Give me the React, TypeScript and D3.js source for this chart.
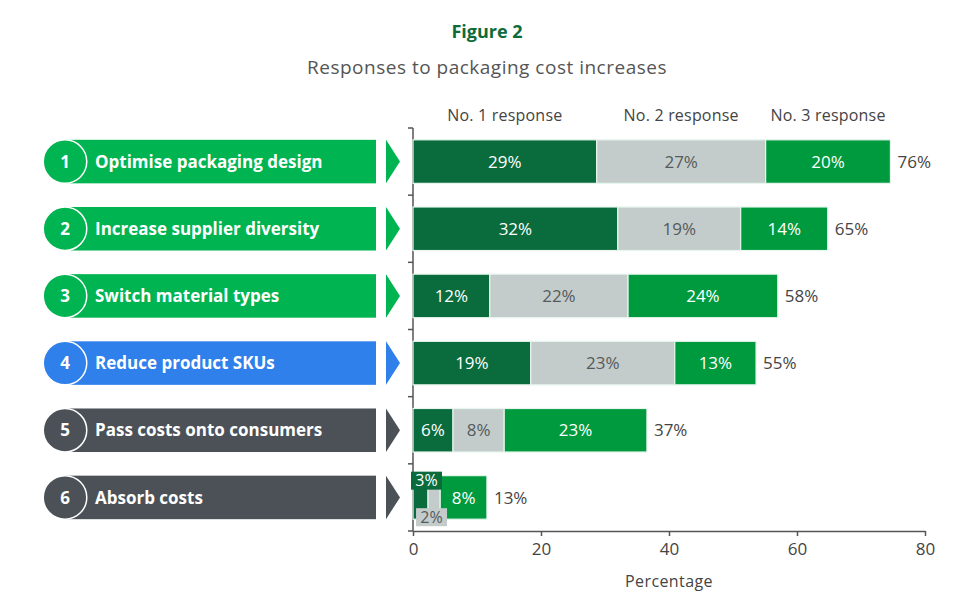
import React, { useRef, useEffect } from 'react';
import * as d3 from 'd3';

const RESPONSES = [
    "Optimise packaging design",
    "Increase supplier diversity",
    "Switch material types",
    "Reduce product SKUs",
    "Pass costs onto consumers",
    "Absorb costs"
];

const SERIES = ["No. 1 response", "No. 2 response", "No. 3 response"];

// values
const NO1 = [28.7, 32.0, 12.0, 18.4, 6.25, 2.35];
const NO2 = [26.4, 19.2, 21.6, 22.5, 8.0, 1.9];
const NO3 = [19.5, 13.6, 23.4, 12.7, 22.3, 7.3];

// printed labels
const NO1_LABELS = ["29%", "32%", "12%", "19%", "6%", "3%"];
const NO2_LABELS = ["27%", "19%", "22%", "23%", "8%", "2%"];
const NO3_LABELS = ["20%", "14%", "24%", "13%", "23%", "8%"];
const TOTAL_LABELS = ["76%", "65%", "58%", "55%", "37%", "13%"];

const X_TICKS = [0, 20, 40, 60, 80];

const PILL_COLORS = ["#00b451", "#00b451", "#00b451", "#2f80ea", "#4b5157", "#4b5157"];
const SERIES_COLORS = ["#0a6b3c", "#c4cccb", "#009a3e"];
const SERIES_TEXT = ["#ffffff", "#555a5c", "#ffffff"];

const FONT = "'Open Sans', Lato, sans-serif";

const App: React.FC = () => {
    const svgRef = useRef<SVGSVGElement>(null);

    useEffect(() => {
        document.body.style.margin = "0";
        if (!svgRef.current) return;

        const svg = d3.select(svgRef.current);
        svg.selectAll("*").remove();

        const margin = { top: 128, left: 413 };
        const width = 512;
        const height = 403;

        const xScale = d3.scaleLinear().domain([0, 80]).range([0, width]);
        const yScale = d3.scaleBand<string>()
            .domain(RESPONSES)
            .range([0, height])
            .paddingInner(0.352)
            .paddingOuter(0.176);

        const series = [NO1, NO2, NO3];
        const labels = [NO1_LABELS, NO2_LABELS, NO3_LABELS];

        // titles
        svg.append("text")
            .attr("x", 487)
            .attr("y", 38)
            .attr("text-anchor", "middle")
            .attr("fill", "#0d6b3a")
            .style("font-family", FONT)
            .style("font-weight", "bold")
            .style("font-size", "18px")
            .text("Figure 2");

        svg.append("text")
            .attr("x", 487)
            .attr("y", 74)
            .attr("text-anchor", "middle")
            .attr("fill", "#555")
            .style("font-family", FONT)
            .style("font-size", "19px")
            .style("letter-spacing", "0.5px")
            .text("Responses to packaging cost increases");

        const g = svg.append("g").attr("transform", `translate(${margin.left},${margin.top})`);

        // left labels
        const bw = yScale.bandwidth();
        const rows = svg.append("g").attr("transform", `translate(0,${margin.top})`);
        RESPONSES.forEach((name, i) => {
            const y0 = yScale(name)!;
            const cy = y0 + bw / 2;
            const color = PILL_COLORS[i];
            const row = rows.append("g");
            row.append("rect")
                .attr("x", 65)
                .attr("y", y0)
                .attr("width", 376 - 65)
                .attr("height", bw)
                .attr("fill", color);
            row.append("circle")
                .attr("cx", 65)
                .attr("cy", cy)
                .attr("r", bw / 2)
                .attr("fill", color)
                .attr("stroke", "#fff")
                .attr("stroke-width", 1.5);
            row.append("path")
                .attr("d", `M386,${y0} L400,${cy} L386,${y0 + bw} Z`)
                .attr("fill", color);
            row.append("text")
                .attr("x", 65)
                .attr("y", cy)
                .attr("dy", "0.36em")
                .attr("text-anchor", "middle")
                .attr("fill", "#fff")
                .style("font-family", FONT)
                .style("font-weight", "bold")
                .style("font-size", "17px")
                .text(String(i + 1));
            row.append("text")
                .attr("x", 95)
                .attr("y", cy)
                .attr("dy", "0.36em")
                .attr("fill", "#fff")
                .style("font-family", FONT)
                .style("font-weight", "bold")
                .style("font-size", "17px")
                .text(name);
        });

        // axes
        const xAxis = g.append("g")
            .attr("transform", `translate(0,${height})`)
            .call(d3.axisBottom(xScale).tickValues(X_TICKS).tickSize(5).tickPadding(7).tickSizeOuter(0));
        xAxis.select(".domain").attr("stroke", "#555").attr("stroke-width", 1.5);
        xAxis.selectAll(".tick line").attr("stroke", "#555").attr("stroke-width", 1.5);
        xAxis.selectAll(".tick text")
            .attr("fill", "#444")
            .style("font-family", FONT)
            .style("font-size", "17px");

        g.append("line")
            .attr("x1", 0).attr("x2", 0)
            .attr("y1", 0).attr("y2", height)
            .attr("stroke", "#555")
            .attr("stroke-width", 1.5);

        d3.range(RESPONSES.length + 1).forEach(i => {
            const yy = i * yScale.step();
            g.append("line")
                .attr("x1", -5).attr("x2", 0)
                .attr("y1", yy).attr("y2", yy)
                .attr("stroke", "#555")
                .attr("stroke-width", 1.5);
        });

        g.append("text")
            .attr("x", width / 2)
            .attr("y", height + 56)
            .attr("text-anchor", "middle")
            .attr("fill", "#444")
            .style("font-family", FONT)
            .style("font-size", "16px")
            .style("letter-spacing", "0.4px")
            .text("Percentage");

        // stacked bars
        RESPONSES.forEach((name, i) => {
            const y0 = yScale(name)!;
            const cy = y0 + bw / 2;
            let acc = 0;
            const smallLabels: { s: number; x0: number }[] = [];
            series.forEach((vals, s) => {
                const v = vals[i];
                const x0 = xScale(acc);
                const x1 = xScale(acc + v);
                acc += v;
                g.append("rect")
                    .attr("x", x0)
                    .attr("y", y0)
                    .attr("width", x1 - x0)
                    .attr("height", bw)
                    .attr("fill", SERIES_COLORS[s])
                    .attr("stroke", "#e6f6ee")
                    .attr("stroke-width", 1.2);

                if (x1 - x0 > 26) {
                    g.append("text")
                        .attr("x", (x0 + x1) / 2)
                        .attr("y", cy)
                        .attr("dy", "0.36em")
                        .attr("text-anchor", "middle")
                        .attr("fill", SERIES_TEXT[s])
                        .style("font-family", FONT)
                        .style("font-size", "17px")
                        .text(labels[s][i]);
                } else {
                    smallLabels.push({ s, x0 });
                }

                if (i === 0) {
                    g.append("text")
                        .attr("x", (x0 + x1) / 2)
                        .attr("y", -7)
                        .attr("text-anchor", "middle")
                        .attr("fill", "#444")
                        .style("font-family", FONT)
                        .style("font-size", "16px")
                        .style("letter-spacing", "0.2px")
                        .text(SERIES[s]);
                }
            });

            // small segments: boxed label above (no. 1) or below (no. 2)
            smallLabels.forEach(({ s, x0 }) => {
                const boxW = 31;
                const boxH = 18;
                const bx = s === 0 ? x0 - 2 : x0 - 12;
                const by = s === 0 ? y0 - 4 : y0 + bw - 11;
                g.append("rect")
                    .attr("x", bx)
                    .attr("y", by)
                    .attr("width", boxW)
                    .attr("height", boxH)
                    .attr("fill", SERIES_COLORS[s]);
                g.append("text")
                    .attr("x", bx + boxW / 2)
                    .attr("y", by + boxH / 2)
                    .attr("dy", "0.36em")
                    .attr("text-anchor", "middle")
                    .attr("fill", SERIES_TEXT[s])
                    .style("font-family", FONT)
                    .style("font-size", "16px")
                    .text(labels[s][i]);
            });

            g.append("text")
                .attr("x", xScale(acc) + 7)
                .attr("y", cy)
                .attr("dy", "0.36em")
                .attr("fill", "#444")
                .style("font-family", FONT)
                .style("font-size", "17px")
                .text(TOTAL_LABELS[i]);
        });
    }, []);

    return (
        <div style={{ width: 975, height: 595, background: "#fff" }}>
            <svg ref={svgRef} width={975} height={595} style={{ display: "block" }} />
        </div>
    );
};

export default App;
